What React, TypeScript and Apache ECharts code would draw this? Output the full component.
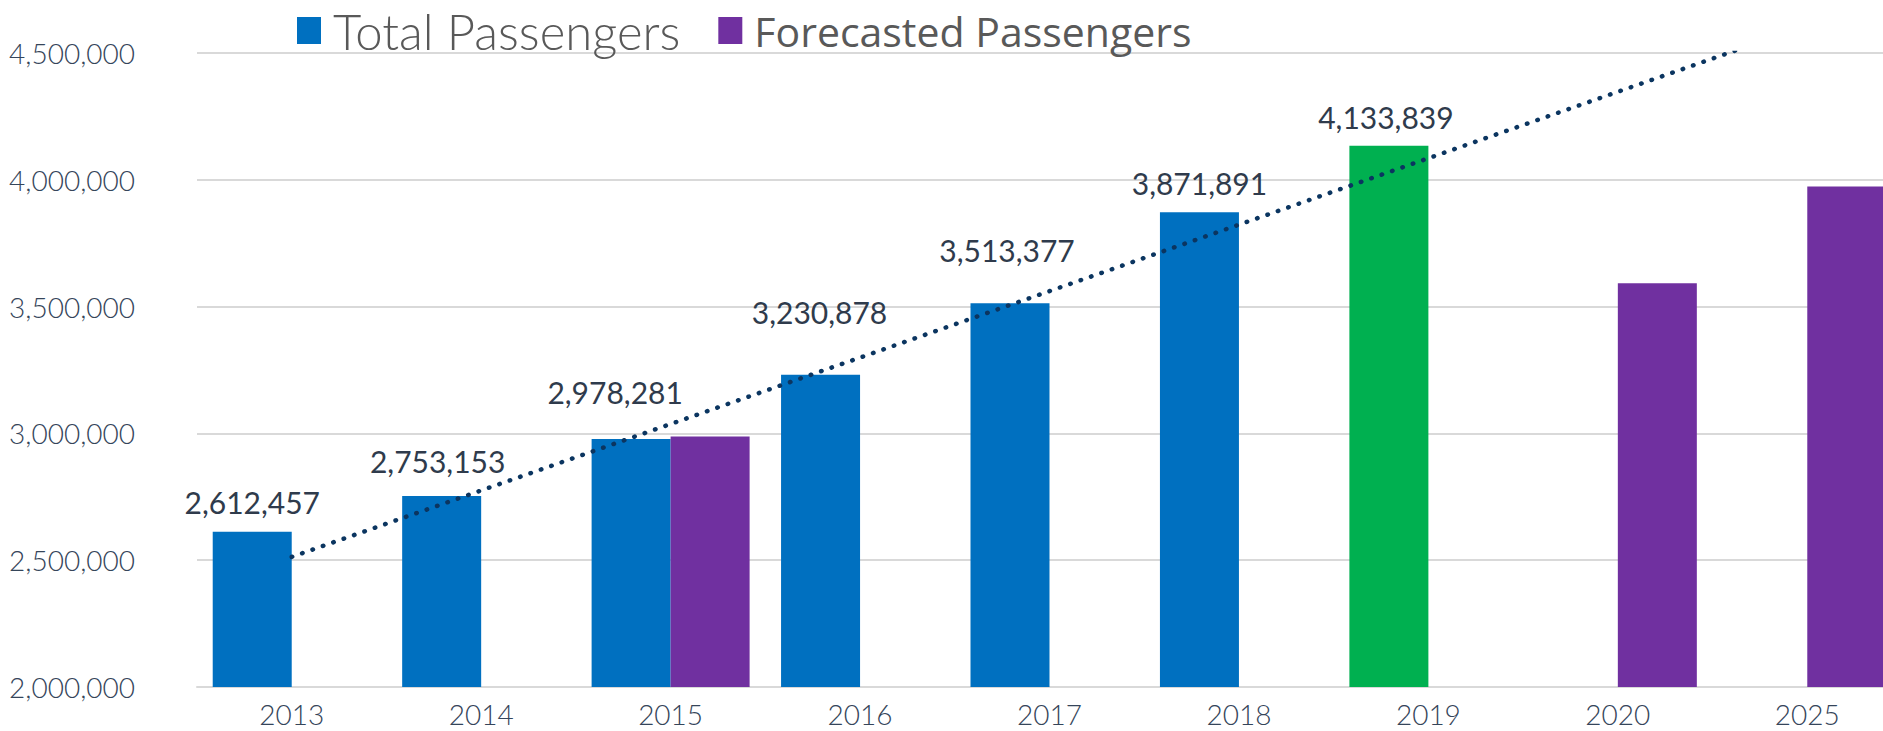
import React, { useEffect, useRef } from "react";
import * as echarts from "echarts";

const categories = ["2013", "2014", "2015", "2016", "2017", "2018", "2019", "2020", "2025"];
const totalPassengers: (number | null)[] = [2612457, 2753153, 2978281, 3230878, 3513377, 3871891, 4133839, null, null];
const forecastedPassengers: (number | null)[] = [null, null, 2988000, null, null, null, null, 3592000, 3974000];
const trendLine: (number | null)[] = [2513000, null, null, null, null, null, null, null, 4609000];
const highlightYear = "2019";
const yMin = 2000000;
const yMax = 4500000;
const yInterval = 500000;

// label nudges (px) so data labels clear the trend line, as in the reference
const labelOffsetX = [0, -4, -16, -1, -3, 0, -3, 0, 0];
const labelOffsetY = [-2, -7, -19, -35, -25, -1, -1, 0, 0];

const BLUE = "#0070C0";
const PURPLE = "#7030A0";
const GREEN = "#00B050";
const TEXT = "#35455a";

const CHART_W = 1920;
const CHART_H = 731;

export default function App() {
  const ref = useRef<HTMLDivElement>(null);
  useEffect(() => {
    if (!ref.current) return;
    const chart = echarts.init(ref.current, null, { renderer: "svg" });
    const fmt = (v: number) => Number(v).toLocaleString("en-US");
    chart.setOption({
      animation: false,
      backgroundColor: "#ffffff",
      legend: {
        left: 292,
        top: 1,
        itemWidth: 24,
        itemHeight: 27,
        itemGap: 38,
        icon: "rect",
        data: [
          {
            name: "Total Passengers",
            textStyle: { fontFamily: "Lato", fontWeight: 300, fontSize: 49, color: "#595959", padding: [0, 0, 0, 7] },
          },
          {
            name: "Forecasted Passengers",
            textStyle: { fontFamily: "Open Sans", fontWeight: 400, fontSize: 41, color: "#595959", padding: [0, 0, 0, 7] },
          },
        ],
      },
      grid: { left: 197, right: CHART_W - 1902, top: 53, bottom: 44, containLabel: false },
      xAxis: {
        type: "category",
        data: categories,
        axisLine: { show: true, lineStyle: { color: "#d9d9d9", width: 2 } },
        axisTick: { show: false },
        axisLabel: { color: TEXT, fontFamily: "Lato", fontWeight: 300, fontSize: 28, margin: 13 },
      },
      yAxis: {
        type: "value",
        min: yMin,
        max: yMax,
        interval: yInterval,
        axisLine: { show: false },
        axisTick: { show: false },
        splitLine: { lineStyle: { color: "#d9d9d9", width: 2 } },
        axisLabel: { color: TEXT, fontFamily: "Lato", fontWeight: 300, fontSize: 28, margin: 62, formatter: fmt },
      },
      series: [
        {
          name: "Total Passengers",
          type: "bar",
          barWidth: 79,
          barGap: "0%",
          itemStyle: { color: BLUE },
          data: totalPassengers.map((v, i) => {
            const item: any = {
              value: v,
              label: { offset: [labelOffsetX[i], labelOffsetY[i]] },
            };
            if (categories[i] === highlightYear) item.itemStyle = { color: GREEN };
            return item;
          }),
          label: {
            show: true,
            position: "top",
            distance: 13,
            color: "#2f3b4c",
            fontFamily: "Lato",
            fontSize: 30,
            formatter: (p: any) => (p.value == null ? "" : fmt(p.value)),
          },
          z: 2,
        },
        {
          name: "Forecasted Passengers",
          type: "bar",
          barWidth: 79,
          barGap: "0%",
          itemStyle: { color: PURPLE },
          data: forecastedPassengers,
          z: 2,
        },
        {
          name: "Trend",
          type: "line",
          data: trendLine,
          connectNulls: true,
          symbol: "none",
          silent: true,
          clip: true,
          z: 5,
          lineStyle: { color: "#0b3560", width: 4.5, type: [0.5, 10.5], cap: "round" },
        },
      ],
    });
    return () => chart.dispose();
  }, []);
  return (
    <div style={{ position: "fixed", left: 0, top: 0, width: 1883, height: 731, overflow: "hidden", background: "#fff" }}>
      <div ref={ref} style={{ width: CHART_W, height: CHART_H }} />
    </div>
  );
}
